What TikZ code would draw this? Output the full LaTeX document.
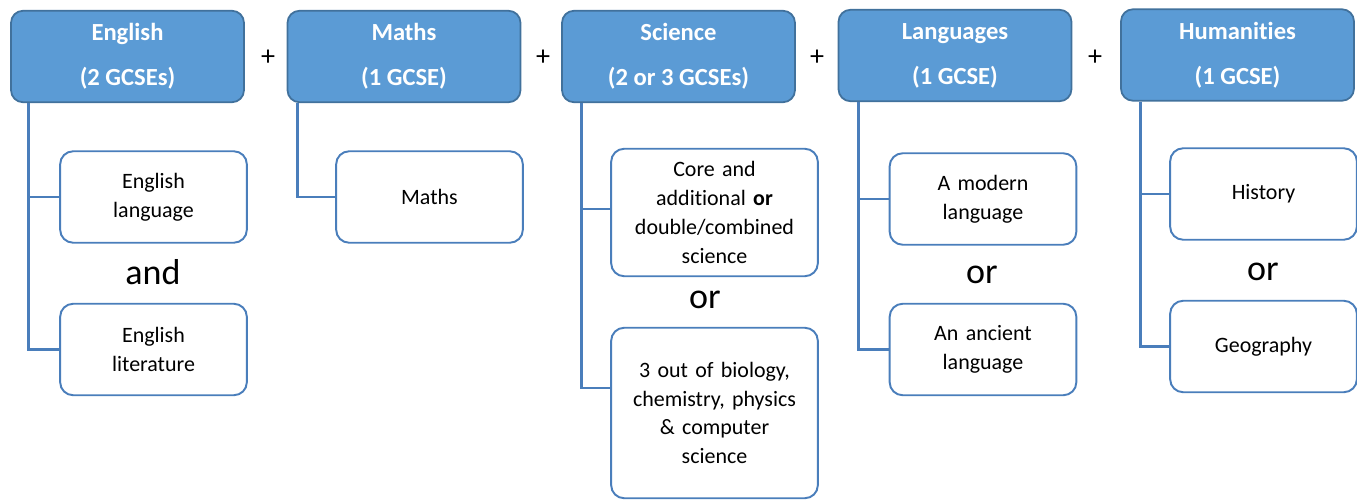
\documentclass[tikz,border=0pt]{standalone}
\usepackage{fontspec}
\setmainfont{Carlito}[Ligatures=NoCommon]
\definecolor{hdrblue}{HTML}{5B9BD5}
\definecolor{hdredge}{HTML}{41719C}
\definecolor{linkblue}{HTML}{4A7EBB}
\tikzset{
  hdr/.style={draw=hdredge, line width=1pt, fill=hdrblue, rounded corners=0.24cm,
    minimum width=4.66cm, minimum height=1.83cm, text=white, align=center,
    font=\bfseries\fontsize{14}{25.5}\selectfont},
  opt/.style={draw=linkblue, line width=1.1pt, fill=white, rounded corners=0.26cm,
    minimum width=3.6cm, minimum height=1.83cm, text width=3.5cm, align=center,
    font=\fontsize{12.5}{16.4}\selectfont},
  link/.style={draw=linkblue, line width=1.6pt},
  conj/.style={font=\fontsize{20.5}{24}\selectfont},
  plus/.style={font=\fontsize{16}{18}\selectfont}
}
\begin{document}
\begin{tikzpicture}[x=0.02cm, y=-0.02cm]
\useasboundingbox (0,0) rectangle (1357,501);
\node[hdr] (eng) at (127.5,56.5) {English\\(2 GCSEs)};
\node[hdr] (mat) at (404,56.5) {Maths\\(1 GCSE)};
\node[hdr] (sci) at (678.5,56.5) {Science\\(2 or 3 GCSEs)};
\node[hdr] (lan) at (955,55.5) {Languages\\(1 GCSE)};
\node[hdr] (hum) at (1237.5,55) {Humanities\\(1 GCSE)};
\node[plus] (p1) at (268,58) {+};
\node[plus] (p2) at (543,58) {+};
\node[plus] (p3) at (817,58) {+};
\node[plus] (p4) at (1095,58) {+};

\node[opt] (englang) at (153.5,197) {English\\language};
\node[opt] (englit) at (153.5,349.5) {English\\literature};
\node[conj] (and) at (153,272) {and};
\node[opt] (maths) at (429.5,197) {Maths};
\node[opt, minimum width=3.98cm, minimum height=2.55cm, text width=3.9cm] (scicore) at (714.5,212.5)
  {Core and\\additional \textbf{or}\\double/combined\\science};
\node[conj] (or1) at (705,300) {or};
\node[opt, minimum width=3.98cm, minimum height=3.41cm, text width=3.9cm] (scisep) at (714.5,413)
  {3 out of biology,\\chemistry, physics\\\& computer\\science};
\node[opt] (langmod) at (983,199) {A modern\\language};
\node[conj] (or2) at (982,275) {or};
\node[opt] (langanc) at (983,349.5) {An ancient\\language};
\node[opt] (hist) at (1263.5,194) {History};
\node[conj] (or3) at (1263,272) {or};
\node[opt] (geog) at (1263.5,346.5) {Geography};

\draw[link] ([xshift=0.36cm]eng.south west) coordinate (engt) |- (englit.west);
\draw[link] (englang.west) -- (englang.west -| engt);
\draw[link] ([xshift=0.22cm]mat.south west) |- (maths.west);
\draw[link] ([xshift=0.4cm]sci.south west) coordinate (scit) |- ([yshift=0.5cm]scisep.west);
\draw[link] ([yshift=0.07cm]scicore.west) -- ([yshift=0.07cm]scicore.west -| scit);
\draw[link] ([xshift=0.42cm]lan.south west) coordinate (lant) |- (langanc.west);
\draw[link] (langmod.west) -- (langmod.west -| lant);
\draw[link] ([xshift=0.4cm]hum.south west) coordinate (humt) |- (geog.west);
\draw[link] (hist.west) -- (hist.west -| humt);
\end{tikzpicture}
\end{document}
